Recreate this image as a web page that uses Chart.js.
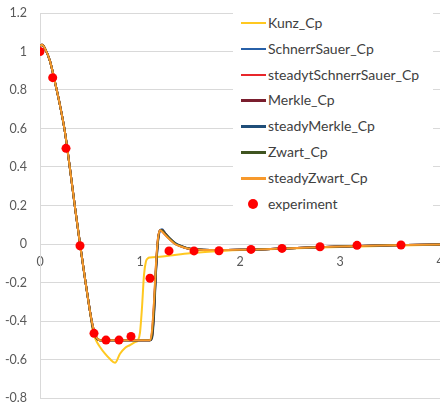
<!DOCTYPE html>
<html>
<head>
<meta charset="utf-8">
<script src="https://cdn.jsdelivr.net/npm/chart.js@4/dist/chart.umd.min.js"></script>
<style>
  html, body { margin: 0; padding: 0; background: #fff; }
  #wrap { position: relative; width: 440px; height: 405px; overflow: hidden; }
  #legend { position: absolute; left: 233px; top: 8px; width: 200px; height: 207px; background: #fff; }
  .row { position: absolute; left: 0; height: 20px; font-family: Lato, "Liberation Sans", sans-serif; font-size: 14px; color: #404040; white-space: nowrap; }
  .row .swatch { position: absolute; left: 8px; top: 9px; width: 25px; height: 2.5px; }
  .row .dot { position: absolute; left: 15px; top: 5px; width: 10px; height: 10px; border-radius: 50%; }
  .row .lbl { position: absolute; left: 35px; top: 1px; line-height: 18px; }
</style>
</head>
<body>
<div id="wrap">
  <canvas id="c" width="440" height="405"></canvas>
  <div id="legend"></div>
</div>
<script>
// Pressure coefficient along the wall, x position
const xMain = [0, 0.02, 0.05, 0.1, 0.15, 0.2, 0.25, 0.3, 0.35, 0.4, 0.45, 0.5, 0.53, 0.56, 0.6, 0.7, 0.8, 0.9, 1.0, 1.1,
               1.12, 1.14, 1.16, 1.18, 1.2, 1.22, 1.25, 1.3, 1.35, 1.4, 1.5, 1.7, 2.0, 2.5, 3.0, 3.5, 4.0];

const schnerrSauerCp = [1.03, 1.035, 1.015, 0.95, 0.84, 0.72, 0.58, 0.39, 0.19, 0.0, -0.18, -0.35, -0.44, -0.485, -0.5, -0.5, -0.5, -0.5, -0.5, -0.5,
                        -0.49, -0.38, -0.15, 0.01, 0.068, 0.076, 0.058, 0.029, 0.006, -0.008, -0.025, -0.031, -0.03, -0.022, -0.013, -0.007, -0.003];
const steadytSchnerrSauerCp = [1.03, 1.035, 1.015, 0.95, 0.84, 0.72, 0.58, 0.39, 0.19, 0.0, -0.18, -0.35, -0.43, -0.48, -0.5, -0.5, -0.5, -0.5, -0.5, -0.5,
                        -0.46, -0.31, -0.11, 0.03, 0.071, 0.066, 0.049, 0.023, 0.001, -0.011, -0.026, -0.031, -0.03, -0.022, -0.013, -0.007, -0.003];
const merkleCp = [1.03, 1.035, 1.015, 0.95, 0.84, 0.72, 0.58, 0.39, 0.19, 0.0, -0.18, -0.35, -0.44, -0.485, -0.5, -0.5, -0.5, -0.5, -0.5, -0.5,
                        -0.485, -0.36, -0.14, 0.015, 0.07, 0.073, 0.056, 0.027, 0.004, -0.009, -0.025, -0.031, -0.03, -0.022, -0.013, -0.007, -0.003];
const steadyMerkleCp = [1.03, 1.035, 1.015, 0.95, 0.84, 0.72, 0.58, 0.39, 0.19, 0.0, -0.18, -0.35, -0.43, -0.48, -0.5, -0.5, -0.5, -0.5, -0.5, -0.5,
                        -0.47, -0.33, -0.12, 0.025, 0.07, 0.068, 0.051, 0.025, 0.002, -0.01, -0.026, -0.031, -0.03, -0.022, -0.013, -0.007, -0.003];
const zwartCp = [1.03, 1.035, 1.015, 0.95, 0.84, 0.72, 0.58, 0.39, 0.19, 0.0, -0.18, -0.35, -0.435, -0.483, -0.5, -0.5, -0.5, -0.5, -0.5, -0.5,
                        -0.48, -0.35, -0.13, 0.02, 0.07, 0.071, 0.054, 0.027, 0.004, -0.009, -0.025, -0.031, -0.03, -0.022, -0.013, -0.007, -0.003];
const steadyZwartCp = [1.03, 1.035, 1.015, 0.95, 0.84, 0.72, 0.58, 0.39, 0.19, 0.0, -0.18, -0.35, -0.43, -0.48, -0.5, -0.5, -0.5, -0.5, -0.5, -0.5,
                        -0.45, -0.3, -0.1, 0.03, 0.072, 0.065, 0.048, 0.022, 0.0, -0.012, -0.026, -0.031, -0.03, -0.022, -0.013, -0.007, -0.003];

// Kunz model has its own sampling
const kunzX  = [0, 0.02, 0.05, 0.1, 0.15, 0.2, 0.25, 0.3, 0.35, 0.4, 0.45, 0.5, 0.53, 0.56, 0.6, 0.65, 0.7, 0.75, 0.8, 0.85, 0.9, 0.95, 0.98,
                1.0, 1.02, 1.04, 1.06, 1.08, 1.1, 1.2, 1.3, 1.5, 1.8, 2.2, 2.8, 3.5, 4.0];
const kunzCp = [1.03, 1.035, 1.015, 0.95, 0.84, 0.72, 0.58, 0.39, 0.19, 0.0, -0.18, -0.35, -0.46, -0.5, -0.535, -0.57, -0.598, -0.617, -0.57, -0.54, -0.525, -0.51, -0.5,
                -0.46, -0.33, -0.16, -0.09, -0.074, -0.07, -0.066, -0.06, -0.048, -0.036, -0.028, -0.018, -0.009, -0.004];

// Measured values
const expX  = [0, 0.127, 0.26, 0.40, 0.54, 0.66, 0.79, 0.91, 1.10, 1.29, 1.54, 1.79, 2.11, 2.42, 2.80, 3.17, 3.61];
const expCp = [1.0, 0.864, 0.497, -0.009, -0.464, -0.499, -0.499, -0.48, -0.178, -0.036, -0.036, -0.035, -0.028, -0.023, -0.014, -0.007, -0.005];

const seriesNames  = ['Kunz_Cp', 'SchnerrSauer_Cp', 'steadytSchnerrSauer_Cp', 'Merkle_Cp', 'steadyMerkle_Cp', 'Zwart_Cp', 'steadyZwart_Cp', 'experiment'];
const seriesColors = ['#FFC820', '#2760A8', '#E8262B', '#7A1E2E', '#1F4E79', '#3F5420', '#F7992C', '#FF0000'];

const yTicks = { min: -0.8, max: 1.2, step: 0.2 };
const xTicks = { min: 0, max: 4, step: 1 };

function pairs(xs, ys) { return xs.map((x, i) => ({ x: x, y: ys[i] })); }
function fmt(v) { return String(Number(v.toFixed(1))); }

const lineSeries = [
  [kunzX, kunzCp],
  [xMain, schnerrSauerCp],
  [xMain, steadytSchnerrSauerCp],
  [xMain, merkleCp],
  [xMain, steadyMerkleCp],
  [xMain, zwartCp],
  [xMain, steadyZwartCp]
];

const datasets = lineSeries.map((s, i) => ({
  label: seriesNames[i],
  data: pairs(s[0], s[1]),
  showLine: true,
  borderColor: seriesColors[i],
  backgroundColor: seriesColors[i],
  borderWidth: 2,
  pointRadius: 0,
  fill: false,
  cubicInterpolationMode: 'monotone',
  order: lineSeries.length - i
}));
datasets.push({
  label: seriesNames[7],
  data: pairs(expX, expCp),
  showLine: false,
  pointRadius: 4.5,
  pointBackgroundColor: seriesColors[7],
  pointBorderWidth: 0,
  borderColor: seriesColors[7],
  order: 0
});

const tickFont = { family: 'Lato, "Liberation Sans", sans-serif', size: 12.5 };

new Chart(document.getElementById('c'), {
  type: 'scatter',
  data: { datasets: datasets },
  options: {
    responsive: false,
    animation: false,
    layout: { autoPadding: false, padding: { top: 13, bottom: 7, left: 0, right: 0 } },
    plugins: { legend: { display: false }, tooltip: { enabled: false } },
    scales: {
      x: {
        type: 'linear',
        position: { y: 0 },
        min: xTicks.min, max: xTicks.max,
        ticks: { stepSize: xTicks.step, color: '#595959', font: tickFont, padding: 10, callback: fmt },
        grid: { display: false, drawTicks: false },
        border: { display: false },
        afterFit: function (scale) { scale.paddingLeft = 0; scale.paddingRight = 0; }
      },
      y: {
        type: 'linear',
        position: 'left',
        min: yTicks.min, max: yTicks.max,
        ticks: { stepSize: yTicks.step, color: '#595959', font: tickFont, padding: 13, callback: fmt },
        grid: { color: '#d9d9d9', lineWidth: 1, drawTicks: false },
        border: { display: true, color: '#d9d9d9' },
        afterFit: function (scale) { scale.width = 40; scale.paddingTop = 0; scale.paddingBottom = 0; }
      }
    }
  }
});

// Legend drawn as a boxed panel inside the plot area
const legendEl = document.getElementById('legend');
seriesNames.forEach((name, i) => {
  const row = document.createElement('div');
  row.className = 'row';
  row.style.top = (22.7 + 25.9 * i - 8 - 10) + 'px';
  const mark = document.createElement('span');
  mark.className = (i === 7) ? 'dot' : 'swatch';
  mark.style.background = seriesColors[i];
  const lbl = document.createElement('span');
  lbl.className = 'lbl';
  lbl.textContent = name;
  row.appendChild(mark);
  row.appendChild(lbl);
  legendEl.appendChild(row);
});
</script>
</body>
</html>
